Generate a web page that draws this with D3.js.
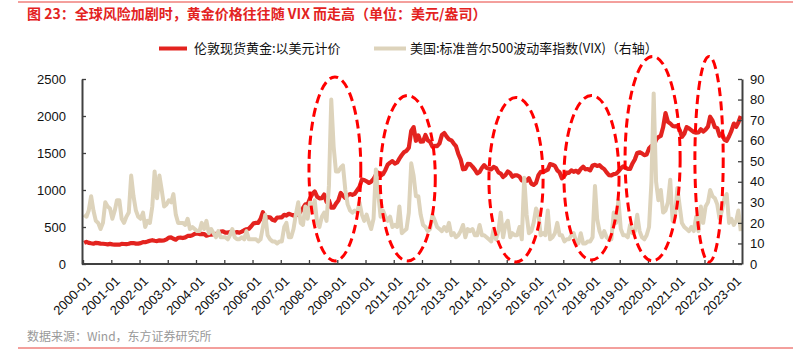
<!DOCTYPE html>
<html><head><meta charset="utf-8">
<script src="https://cdn.jsdelivr.net/npm/d3@7"></script>
<style>
body{margin:0;background:#fff;}
svg{display:block;font-family:"Liberation Sans",Arial,"Noto Sans CJK SC",sans-serif;}
</style></head>
<body><svg id="c" width="803" height="356"></svg>
<script>
const titleText = "图 23：全球风险加剧时，黄金价格往往随 VIX 而走高（单位：美元/盎司）";
const sourceText = "数据来源：Wind，东方证券研究所";
const seriesNames = ["伦敦现货黄金:以美元计价", "美国:标准普尔500波动率指数(VIX)（右轴）"];
const startMonth = "2000-01";
const xTickLabels = ["2000-01","2001-01","2002-01","2003-01","2004-01","2005-01","2006-01","2007-01","2008-01","2009-01","2010-01","2011-01","2012-01","2013-01","2014-01","2015-01","2016-01","2017-01","2018-01","2019-01","2020-01","2021-01","2022-01","2023-01"];
const leftTicks = [0,500,1000,1500,2000,2500];
const rightTicks = [0,10,20,30,40,50,60,70,80,90];

// London spot gold, USD/oz, monthly 2000-01 .. 2023-04
const gold = [
284,300,286,280,275,286,282,275,274,270,266,272,
266,262,263,261,272,270,268,273,283,283,276,276,
282,296,294,303,314,322,314,310,319,317,319,333,
357,359,340,328,355,356,351,360,379,379,389,407,
414,405,406,404,383,392,398,400,406,420,439,442,
424,424,434,429,422,431,424,438,456,470,476,510,
549,555,557,610,700,596,633,632,598,586,628,629,
631,665,655,679,667,655,665,665,712,754,806,803,
889,950,980,909,888,889,939,839,860,760,760,816,
858,960,924,890,929,946,934,949,996,1043,1140,1135,
1118,1095,1113,1148,1205,1232,1193,1215,1271,1342,1370,1391,
1356,1372,1424,1473,1512,1529,1572,1800,1850,1665,1739,1652,
1656,1743,1673,1650,1585,1596,1594,1630,1745,1770,1722,1685,
1671,1627,1593,1487,1414,1280,1286,1352,1349,1316,1275,1225,
1244,1300,1336,1299,1287,1279,1311,1295,1239,1222,1176,1201,
1251,1227,1179,1198,1199,1182,1131,1117,1125,1159,1086,1068,
1097,1200,1246,1242,1260,1276,1350,1341,1326,1266,1238,1157,
1192,1234,1231,1266,1246,1260,1236,1283,1315,1280,1283,1265,
1331,1340,1325,1335,1304,1282,1238,1202,1198,1215,1220,1250,
1292,1320,1300,1286,1284,1359,1413,1500,1510,1495,1471,1480,
1561,1597,1592,1683,1716,1732,1847,2040,1921,1900,1866,1858,
1867,1808,1718,1760,1850,1834,1807,1785,1775,1777,1820,1790,
1817,1856,1990,1937,1849,1836,1733,1765,1681,1665,1726,1798,
1898,1855,1912,2000
];

// CBOE VIX, monthly 2000-01 .. 2023-04
const vix = [
24,23,26,33,26,21,20,17,20,30,28,27,
22,26,31,31,22,20,23,25,43,33,26,23,
22,25,18,21,20,28,45,32,43,36,28,29,
31,30,34,24,20,20,20,19,22,17,18,17,
16,16,20,17,21,15,17,15,13,16,13,13,
13,12,14,17,13,12,12,13,12,16,12,12,
12,12,11,12,18,24,14,12,11,11,10,11,
11,18,20,13,13,17,24,30,20,19,28,22,
30,26,31,20,18,23,25,21,38,80,57,45,
45,47,48,36,29,26,25,26,25,30,24,21,
24,20,17,22,46,34,23,26,23,21,23,18,
19,18,28,15,16,17,25,49,43,33,33,24,
19,18,16,17,24,21,18,17,16,18,16,20,
14,15,13,14,16,19,13,17,16,17,14,14,
19,14,14,13,12,11,17,12,16,25,13,19,
21,13,15,14,14,18,12,42,24,15,16,20,
27,24,14,15,14,26,12,13,15,20,14,14,
11,12,12,14,15,11,10,15,10,10,11,11,
13,38,22,16,13,16,13,12,12,25,20,31,
17,14,14,13,19,15,16,24,16,13,12,14,
18,40,83,40,31,36,25,26,30,41,21,23,
37,28,20,18,17,16,18,16,23,16,28,20,
28,30,36,33,32,29,22,26,32,34,20,22,
19,21,26,16
];

// Dashed highlight ellipses: centre month, half-width in months, top & bottom on right (VIX) axis
const highlightCentre = ["2008-12","2011-07","2015-05","2018-01","2020-03","2022-03"];
const highlightHalfMonths = [11, 11.7, 11.5, 11.7, 11.7, 6];
const highlightTop = [91, 82, 81, 82, 101, 101];
const highlightBottom = [1.5, 1.5, 1, 2, 1.5, 1];

const svg = d3.select("#c");
const parseM = d3.timeParse("%Y-%m");
const start = parseM(startMonth);
const dates = gold.map((_, i) => d3.timeDay.offset(d3.timeMonth.offset(start, i), 14));

const x = d3.scaleTime().domain([start, d3.timeMonth.offset(start, 280)]).range([83, 742]);
const yL = d3.scaleLinear().domain([0, 2500]).range([264, 79]);
const yR = d3.scaleLinear().domain([0, 90]).range([264, 79]);

const red = "#e3231f", beige = "#ddd3bb", axisCol = "#404040";
const cjk = "'Noto Sans CJK SC','Liberation Sans',sans-serif";

// frame lines
svg.append("line").attr("x1",18).attr("x2",793).attr("y1",2).attr("y2",2).attr("stroke","#e8413a").attr("stroke-width",1);
svg.append("line").attr("x1",18).attr("x2",793).attr("y1",348).attr("y2",348).attr("stroke","#e8413a").attr("stroke-width",1);

svg.append("text").attr("x",27).attr("y",19).attr("fill","#e3231f").attr("font-size",14).attr("font-weight","bold")
  .attr("font-family",cjk).text(titleText);

svg.append("text").attr("x",27).attr("y",341).attr("fill","#999").attr("font-size",12)
  .attr("font-family",cjk).text(sourceText);

// legend
const lg = svg.append("g").attr("font-size",13).attr("font-family",cjk);
lg.append("line").attr("x1",159).attr("x2",187).attr("y1",48.5).attr("y2",48.5).attr("stroke",red).attr("stroke-width",4);
lg.append("text").attr("x",194).attr("y",53).attr("fill","#111").text(seriesNames[0]);
lg.append("line").attr("x1",374).attr("x2",406).attr("y1",48.5).attr("y2",48.5).attr("stroke",beige).attr("stroke-width",4);
lg.append("text").attr("x",410).attr("y",53).attr("fill","#111").text(seriesNames[1]);

// lines
const goldLine = d3.line().x((d,i)=>x(dates[i])).y(d=>yL(d));
const vixLine = d3.line().x((d,i)=>x(dates[i])).y(d=>yR(d));
svg.append("path").datum(gold).attr("d",goldLine).attr("fill","none").attr("stroke",red).attr("stroke-width",4.2).attr("stroke-linejoin","round");
svg.append("path").datum(vix).attr("d",vixLine).attr("fill","none").attr("stroke",beige).attr("stroke-width",4).attr("stroke-linejoin","round");

// axes
const gx = svg.append("g").attr("transform","translate(0,264)");
gx.call(d3.axisBottom(x).tickValues(xTickLabels.map(parseM)).tickSizeInner(-4).tickSizeOuter(0).tickFormat(""));
gx.select(".domain").attr("stroke",axisCol).attr("stroke-width",2).attr("d","M82,0H742");
gx.selectAll(".tick line").attr("stroke",axisCol).attr("stroke-width",1.3);
gx.selectAll(".tick").append("text").attr("fill","#111").attr("font-size",13).attr("text-anchor","end")
  .attr("transform","translate(9,18) rotate(-45)").text((d,i)=>xTickLabels[i]);

const gl = svg.append("g").attr("transform","translate(82,0)");
gl.call(d3.axisLeft(yL).tickValues(leftTicks).tickSizeInner(-4).tickSizeOuter(0).tickPadding(16).tickFormat(d3.format("d")));
gl.select(".domain").attr("stroke",axisCol).attr("stroke-width",2);
gl.selectAll(".tick line").attr("stroke",axisCol).attr("stroke-width",1.3);
gl.selectAll(".tick text").attr("fill","#111").attr("font-size",13).attr("font-family","'Liberation Sans',Arial,sans-serif");

const gr = svg.append("g").attr("transform","translate(742,0)");
gr.call(d3.axisRight(yR).tickValues(rightTicks).tickSizeInner(-4).tickSizeOuter(0).tickPadding(8).tickFormat(d3.format("d")));
gr.select(".domain").attr("stroke",axisCol).attr("stroke-width",2);
gr.selectAll(".tick line").attr("stroke",axisCol).attr("stroke-width",1.3);
gr.selectAll(".tick text").attr("fill","#111").attr("font-size",13).attr("font-family","'Liberation Sans',Arial,sans-serif");
svg.selectAll(".domain").attr("fill","none");

// highlight ellipses
highlightCentre.forEach((c, i) => {
  const cd = parseM(c);
  const cx = x(cd);
  const half = Math.round(highlightHalfMonths[i]*30.44);
  const rx = (x(d3.timeDay.offset(cd, half)) - x(d3.timeDay.offset(cd, -half)))/2;
  const yt = yR(highlightTop[i]), yb = yR(highlightBottom[i]);
  svg.append("ellipse").attr("cx",cx).attr("cy",(yt+yb)/2).attr("rx",rx).attr("ry",(yb-yt)/2)
    .attr("fill","none").attr("stroke","#ff0000").attr("stroke-width",3).attr("stroke-dasharray","9,5");
});
</script></body></html>
